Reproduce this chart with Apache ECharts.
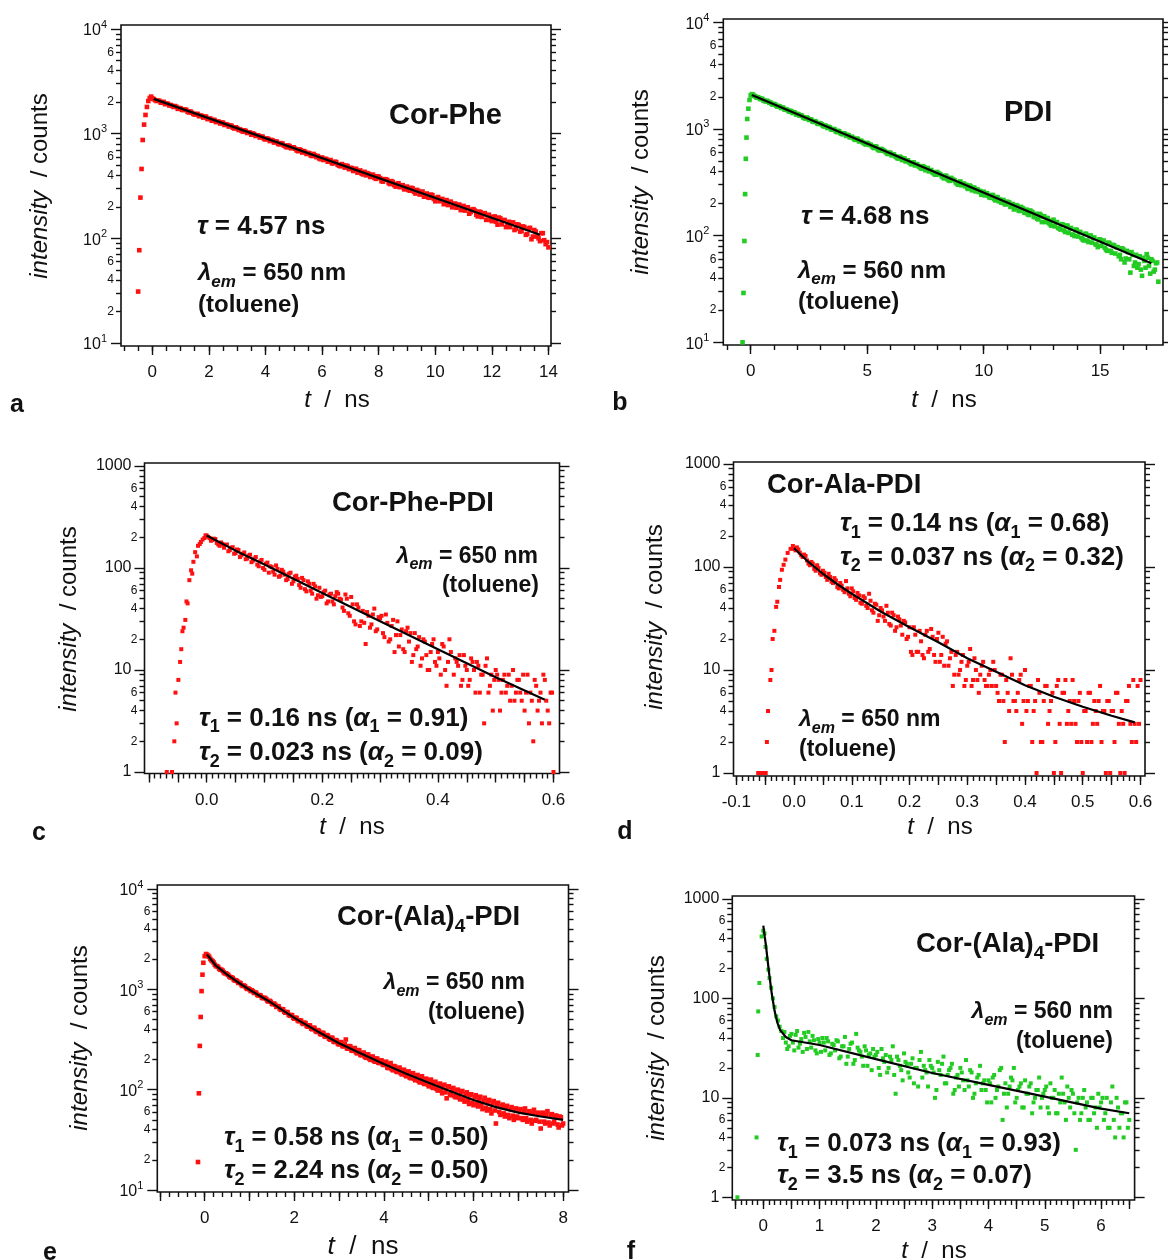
<!DOCTYPE html>
<html>
<head>
<meta charset="utf-8">
<script src="https://cdn.jsdelivr.net/npm/echarts@6/dist/echarts.min.js"></script>
<style>
  html, body { margin: 0; padding: 0; background: #fff; }
  #chart { width: 1168px; height: 1260px; }
</style>
</head>
<body>
<div id="chart"></div>
<script>
// ---------------- Fluorescence decay data (t in ns, intensity in counts) ----------------
// Each panel: the main channel set, an interleaved channel set, and the fitted decay curve.

// (a) Cor-Phe, λem = 650 nm
const pointsA = [[-0.5,31],[-0.46,77],[-0.42,245],[-0.38,460],[-0.34,870],[-0.29,1220],[-0.24,1510],[-0.19,1800],[-0.14,2050],[-0.09,2190],[-0.04,2260],
[0,2170],[0.1,2090],[0.2,2065],[0.3,1975],[0.4,2010],[0.5,1940],[0.6,1860],[0.7,1842],[0.8,1835],[0.9,1725],
[1,1745],[1.1,1680],[1.2,1690],[1.3,1595],[1.4,1586],[1.5,1520],[1.6,1545],[1.7,1490],[1.8,1425],[1.9,1455],
[2,1382],[2.1,1330],[2.2,1350],[2.3,1305],[2.4,1250],[2.5,1275],[2.6,1230],[2.7,1170],[2.8,1190],[2.9,1120],
[3,1128],[3.1,1100],[3.2,1045],[3.3,1062],[3.4,1030],[3.5,978],[3.6,992],[3.7,962],[3.8,918],[3.9,935],
[4,880],[4.1,890],[4.2,872],[4.3,822],[4.4,838],[4.5,790],[4.6,805],[4.7,758],[4.8,772],[4.9,725],
[5,740],[5.1,692],[5.2,708],[5.3,660],[5.4,672],[5.5,655],[5.6,618],[5.7,640],[5.8,596],[5.9,580],
[6,592],[6.1,575],[6.2,540],[6.3,560],[6.4,522],[6.5,535],[6.6,495],[6.7,512],[6.8,474],[6.9,490],
[7,472],[7.1,440],[7.2,462],[7.3,430],[7.4,415],[7.5,432],[7.6,420],[7.7,386],[7.8,405],[7.9,370],
[8,388],[8.1,352],[8.2,368],[8.3,362],[8.4,330],[8.5,345],[8.6,312],[8.7,336],[8.8,320],[8.9,294],
[9,312],[9.1,285],[9.2,300],[9.3,268],[9.4,284],[9.5,276],[9.6,250],[9.7,268],[9.8,244],[9.9,258],
[10,226],[10.1,248],[10.2,236],[10.3,212],[10.4,232],[10.5,222],[10.6,198],[10.7,215],[10.8,208],[10.9,186],
[11,204],[11.1,195],[11.2,172],[11.3,188],[11.4,184],[11.5,162],[11.6,178],[11.7,170],[11.8,150],[11.9,168],
[12,146],[12.1,162],[12.2,135],[12.3,155],[12.4,148],[12.5,128],[12.6,144],[12.7,140],[12.8,120],[12.9,136],
[13,116],[13.1,130],[13.2,108],[13.3,124],[13.4,98],[13.5,120],[13.6,104],[13.7,94],[13.8,112],[13.9,88],[14,82]];
const pointsA2 = [[0.05,2140],[0.15,2050],[0.25,2060],[0.35,2005],[0.45,1915],[0.55,1930],[0.65,1880],[0.75,1800],[0.85,1805],[0.95,1760],
[1.05,1690],[1.15,1700],[1.25,1615],[1.35,1630],[1.45,1545],[1.55,1540],[1.65,1470],[1.75,1480],[1.85,1450],[1.95,1380],
[2.05,1395],[2.15,1355],[2.25,1290],[2.35,1300],[2.45,1275],[2.55,1210],[2.65,1220],[2.75,1195],[2.85,1140],[2.95,1150],
[3.05,1085],[3.15,1070],[3.25,1075],[3.35,1015],[3.45,1025],[3.55,1005],[3.65,950],[3.75,960],[3.85,940],[3.95,890],
[4.05,900],[4.15,850],[4.25,862],[4.35,845],[4.45,798],[4.55,812],[4.65,770],[4.75,740],[4.85,760],[4.95,738],
[5.05,718],[5.15,680],[5.25,695],[5.35,682],[5.45,640],[5.55,650],[5.65,612],[5.75,622],[5.85,612],[5.95,570],
[6.05,560],[6.15,572],[6.25,552],[6.35,520],[6.45,540],[6.55,505],[6.65,488],[6.75,500],[6.85,495],[6.95,458],
[7.05,468],[7.15,458],[7.25,425],[7.35,445],[7.45,408],[7.55,400],[7.65,412],[7.75,404],[7.85,378],[7.95,392],
[8.05,376],[8.15,348],[8.25,366],[8.35,338],[8.45,352],[8.55,322],[8.65,330],[8.75,308],[8.85,322],[8.95,296],
[9.05,290],[9.15,304],[9.25,278],[9.35,290],[9.45,262],[9.55,280],[9.65,256],[9.75,246],[9.85,262],[9.95,238],
[10.05,244],[10.15,226],[10.25,238],[10.35,218],[10.45,208],[10.55,224],[10.65,212],[10.75,196],[10.85,210],[10.95,202],
[11.05,184],[11.15,198],[11.25,178],[11.35,190],[11.45,168],[11.55,180],[11.65,160],[11.75,174],[11.85,166],[11.95,150],
[12.05,160],[12.15,144],[12.25,158],[12.35,136],[12.45,150],[12.55,132],[12.65,128],[12.75,142],[12.85,124],[12.95,134],
[13.05,118],[13.15,128],[13.25,110],[13.35,126],[13.45,104],[13.55,116],[13.65,100],[13.75,112],[13.85,96],[13.95,92]];
const fitA = [[0.05,2150],[13.7,108]];

// (b) PDI, λem = 560 nm
const pointsB = [[-0.35,10],[-0.31,29],[-0.27,89],[-0.24,245],[-0.21,525],[-0.18,830],[-0.15,1240],[-0.1,1550],[-0.05,1870],[0,2060],
[0.1,2100],[0.2,2020],[0.3,1985],[0.4,1905],[0.5,1910],[0.6,1830],[0.7,1840],[0.8,1760],[0.9,1720],
[1,1715],[1.1,1650],[1.2,1640],[1.3,1570],[1.4,1580],[1.5,1515],[1.6,1490],[1.7,1480],[1.8,1410],[1.9,1420],
[2,1385],[2.1,1330],[2.2,1330],[2.3,1268],[2.4,1280],[2.5,1215],[2.6,1225],[2.7,1165],[2.8,1170],[2.9,1115],
[3,1125],[3.1,1070],[3.2,1078],[3.3,1020],[3.4,1035],[3.5,985],[3.6,990],[3.7,935],[3.8,950],[3.9,902],
[4,912],[4.1,860],[4.2,872],[4.3,838],[4.4,822],[4.5,790],[4.6,805],[4.7,770],[4.8,752],[4.9,725],
[5,740],[5.1,708],[5.2,690],[5.3,662],[5.4,680],[5.5,632],[5.6,650],[5.7,625],[5.8,606],[5.9,582],
[6,598],[6.1,572],[6.2,555],[6.3,532],[6.4,550],[6.5,510],[6.6,528],[6.7,505],[6.8,488],[6.9,466],
[7,486],[7.1,466],[7.2,448],[7.3,428],[7.4,448],[7.5,410],[7.6,430],[7.7,410],[7.8,392],[7.9,375],
[8,395],[8.1,380],[8.2,360],[8.3,344],[8.4,362],[8.5,330],[8.6,348],[8.7,334],[8.8,315],[8.9,300],
[9,322],[9.1,306],[9.2,290],[9.3,278],[9.4,295],[9.5,266],[9.6,282],[9.7,272],[9.8,256],[9.9,242],
[10,258],[10.1,247],[10.2,236],[10.3,226],[10.4,240],[10.5,214],[10.6,229],[10.7,218],[10.8,206],[10.9,198],
[11,208],[11.1,204],[11.2,190],[11.3,176],[11.4,193],[11.5,172],[11.6,186],[11.7,179],[11.8,163],[11.9,158],
[12,172],[12.1,165],[12.2,149],[12.3,144],[12.4,160],[12.5,134],[12.6,152],[12.7,146],[12.8,131],[12.9,124],
[13,141],[13.1,133],[13.2,118],[13.3,114],[13.4,127],[13.5,108],[13.6,124],[13.7,117],[13.8,102],[13.9,99],
[14,113],[14.1,108],[14.2,95],[14.3,90],[14.4,104],[14.5,87],[14.6,100],[14.7,95],[14.8,83],[14.9,78],
[15,92],[15.1,88],[15.2,77],[15.3,72],[15.4,85],[15.5,69],[15.6,81],[15.7,78],[15.8,64],[15.9,60],
[16,74],[16.1,61],[16.2,70],[16.3,45],[16.4,66],[16.5,56],[16.6,50],[16.7,64],[16.8,42],[16.9,58],
[17,67],[17.1,52],[17.2,60],[17.3,46],[17.4,55],[17.5,37]];
const pointsB2 = [[0.05,2120],[0.15,2045],[0.25,1965],[0.35,1960],[0.45,1925],[0.55,1850],[0.65,1810],[0.75,1805],[0.85,1770],[0.95,1690],
[1.05,1695],[1.15,1620],[1.25,1625],[1.35,1590],[1.45,1525],[1.55,1520],[1.65,1455],[1.75,1462],[1.85,1430],[1.95,1365],
[2.05,1370],[2.15,1345],[2.25,1285],[2.35,1252],[2.45,1262],[2.55,1230],[2.65,1178],[2.75,1185],[2.85,1130],[2.95,1135],
[3.05,1105],[3.15,1055],[3.25,1060],[3.35,1045],[3.45,990],[3.55,1000],[3.65,950],[3.75,960],[3.85,915],[3.95,890],
[4.05,900],[4.15,880],[4.25,835],[4.35,845],[4.45,800],[4.55,812],[4.65,765],[4.75,775],[4.85,738],[4.95,715],
[5.05,728],[5.15,712],[5.25,672],[5.35,688],[5.45,645],[5.55,628],[5.65,642],[5.75,620],[5.85,590],[5.95,600],
[6.05,566],[6.15,578],[6.25,545],[6.35,528],[6.45,540],[6.55,525],[6.65,496],[6.75,508],[6.85,478],[6.95,485],
[7.05,455],[7.15,468],[7.25,440],[7.35,425],[7.45,438],[7.55,428],[7.65,400],[7.75,412],[7.85,385],[7.95,372],
[8.05,386],[8.15,374],[8.25,352],[8.35,365],[8.45,338],[8.55,326],[8.65,340],[8.75,330],[8.85,308],[8.95,318],
[9.05,296],[9.15,308],[9.25,300],[9.35,274],[9.45,288],[9.55,280],[9.65,260],[9.75,270],[9.85,262],[9.95,244],
[10.05,238],[10.15,250],[10.25,228],[10.35,240],[10.45,220],[10.55,230],[10.65,210],[10.75,204],[10.85,216],[10.95,196],
[11.05,206],[11.15,186],[11.25,198],[11.35,180],[11.45,190],[11.55,170],[11.65,182],[11.75,164],[11.85,175],[11.95,156],
[12.05,168],[12.15,150],[12.25,160],[12.35,142],[12.45,156],[12.55,150],[12.65,134],[12.75,146],[12.85,128],[12.95,138],
[13.05,122],[13.15,134],[13.25,117],[13.35,128],[13.45,112],[13.55,124],[13.65,106],[13.75,118],[13.85,102],[13.95,114],
[14.05,98],[14.15,108],[14.25,92],[14.35,104],[14.45,90],[14.55,100],[14.65,86],[14.75,96],[14.85,82],[14.95,92],
[15.05,80],[15.15,90],[15.25,74],[15.35,86],[15.45,72],[15.55,82],[15.65,68],[15.75,78],[15.85,66],[15.95,76],
[16.05,56],[16.15,72],[16.25,60],[16.35,70],[16.45,52],[16.55,66],[16.65,54],[16.75,48],[16.85,62],[16.95,50],
[17.05,62],[17.15,44],[17.25,58],[17.35,48],[17.45,56]];
const fitB = [[0.05,2080],[17.2,55]];

// (c) Cor-Phe-PDI, λem = 650 nm
const pointsC = [[-0.069,1],[-0.06,1],[-0.056,2],[-0.054,6],[-0.052,3],[-0.049,8],[-0.046,12],[-0.044,16],[-0.042,24],[-0.04,26],[-0.037,31],[-0.035,47],[-0.033,45],[-0.03,76],[-0.027,95],[-0.025,88],[-0.023,115],[-0.02,143],[-0.017,130],[-0.015,165],[-0.012,172],[-0.01,180],[-0.007,190],[-0.004,197],[-0.002,209],
[0,208],[0.005,196],[0.01,188],[0.015,192],[0.02,170],[0.025,178],[0.03,158],[0.035,170],[0.04,150],[0.045,160],[0.05,140],[0.055,150],[0.06,133],[0.065,142],[0.07,124],[0.075,135],[0.08,118],[0.085,128],[0.09,104],[0.095,120],
[0.1,96],[0.105,113],[0.11,104],[0.115,92],[0.12,106],[0.125,82],[0.13,96],[0.135,86],[0.14,78],[0.145,90],[0.15,74],[0.155,84],[0.16,68],[0.165,80],[0.17,62],[0.175,74],[0.18,60],[0.185,70],[0.19,50],[0.195,64],
[0.2,53],[0.205,60],[0.21,47],[0.215,56],[0.22,44],[0.225,58],[0.23,50],[0.235,41],[0.24,55],[0.245,36],[0.25,52],[0.255,30],[0.26,44],[0.265,27],[0.27,38],[0.275,18],[0.28,34],[0.285,28],[0.29,40],[0.295,25],
[0.3,32],[0.305,23],[0.31,35],[0.315,19],[0.32,27],[0.325,15],[0.33,30],[0.335,22],[0.34,16],[0.345,24],[0.35,19],[0.355,12],[0.36,23],[0.365,17],[0.37,11],[0.375,20],[0.38,14],[0.385,10],[0.39,18],[0.395,12],
[0.4,15],[0.405,9],[0.41,17],[0.415,7],[0.42,20],[0.425,4],[0.43,13],[0.435,11],[0.44,7],[0.445,14],[0.45,10],[0.455,8],[0.46,12],[0.465,6],[0.47,11],[0.475,9],[0.48,3],[0.485,13],[0.49,7],[0.495,4],
[0.5,10],[0.505,8],[0.51,6],[0.515,9],[0.52,7],[0.525,5],[0.53,10],[0.535,6],[0.54,8],[0.545,5],[0.55,4],[0.555,9],[0.56,6],[0.565,2],[0.57,7],[0.575,5],[0.58,3],[0.585,8],[0.59,4],[0.595,6],[0.6,1]];
const pointsC2 = [[0.0025,202],[0.0075,185],[0.0125,194],[0.0175,176],[0.0225,165],[0.0275,172],[0.0325,168],[0.0375,146],[0.0425,158],[0.0475,138],
[0.0525,152],[0.0575,128],[0.0625,138],[0.0675,122],[0.0725,132],[0.0775,114],[0.0825,124],[0.0875,108],[0.0925,116],[0.0975,100],
[0.1025,110],[0.1075,90],[0.1125,102],[0.1175,86],[0.1225,98],[0.1275,84],[0.1325,92],[0.1375,76],[0.1425,88],[0.1475,70],
[0.1525,82],[0.1575,78],[0.1625,64],[0.1675,76],[0.1725,59],[0.1775,70],[0.1825,56],[0.1875,66],[0.1925,54],[0.1975,52],
[0.2025,58],[0.2075,45],[0.2125,55],[0.2175,47],[0.2225,53],[0.2275,56],[0.2325,49],[0.2375,38],[0.2425,50],[0.2475,34],
[0.2525,44],[0.2575,28],[0.2625,41],[0.2675,30],[0.2725,29],[0.2775,37],[0.2825,26],[0.2875,35],[0.2925,24],[0.2975,33],
[0.3025,34],[0.3075,21],[0.3125,29],[0.3175,20],[0.3225,31],[0.3275,22],[0.3325,17],[0.3375,25],[0.3425,15],[0.3475,26],
[0.3525,23],[0.3575,14],[0.3625,16],[0.3675,21],[0.3725,13],[0.3775,19],[0.3825,10],[0.3875,15],[0.3925,20],[0.3975,11],
[0.4025,13],[0.4075,18],[0.4125,10],[0.4175,12],[0.4225,15],[0.4275,9],[0.4325,12],[0.4375,14],[0.4425,8],[0.4475,11],
[0.4525,7],[0.4575,13],[0.4625,10],[0.4675,12],[0.4725,6],[0.4775,9],[0.4825,11],[0.4875,6],[0.4925,9],[0.4975,8],
[0.5025,9],[0.5075,4],[0.5125,8],[0.5175,6],[0.5225,9],[0.5275,7],[0.5325,5],[0.5375,8],[0.5425,6],[0.5475,9],
[0.5525,6],[0.5575,3],[0.5625,5],[0.5675,8],[0.5725,4],[0.5775,6],[0.5825,9],[0.5875,5],[0.5925,3],[0.5975,6]];
const fitC = [[0,208],[0.05,148],[0.1,108],[0.2,57],[0.3,30],[0.4,16],[0.5,8.5],[0.585,5.1]];

// (d) Cor-Ala-PDI, λem = 650 nm
const pointsD = [[-0.062,1],[-0.057,1],[-0.053,1],[-0.049,1],[-0.047,2],[-0.045,4],[-0.041,8],[-0.039,10],[-0.037,20],[-0.034,24],[-0.031,41],[-0.029,46],[-0.026,64],[-0.024,75],[-0.021,94],[-0.018,105],[-0.015,118],[-0.011,137],[-0.006,150],[-0.002,160],
[0,150],[0.005,155],[0.01,138],[0.015,125],[0.02,128],[0.025,108],[0.03,112],[0.035,96],[0.04,104],[0.045,87],[0.05,92],[0.055,80],[0.06,86],[0.065,72],[0.07,78],[0.075,64],[0.08,70],[0.085,60],[0.09,73],[0.095,55],
[0.1,62],[0.105,50],[0.11,56],[0.115,45],[0.12,52],[0.125,42],[0.13,55],[0.135,38],[0.14,44],[0.145,30],[0.15,40],[0.155,33],[0.16,42],[0.165,28],[0.17,36],[0.175,24],[0.18,33],[0.185,27],[0.19,30],[0.195,20],
[0.2,26],[0.205,14],[0.21,22],[0.215,15],[0.22,19],[0.225,13],[0.23,24],[0.235,16],[0.24,21],[0.245,12],[0.25,23],[0.255,14],[0.26,11],[0.265,19],[0.27,13],[0.275,7],[0.28,14],[0.285,9],[0.29,12],[0.295,7],
[0.3,11],[0.305,16],[0.31,8],[0.315,10],[0.32,6],[0.325,11],[0.33,8],[0.335,7],[0.34,10],[0.345,12],[0.35,7],[0.355,5],[0.36,9],[0.365,2],[0.37,6],[0.375,13],[0.38,5],[0.385,4],[0.39,8],[0.395,3],
[0.4,10],[0.405,5],[0.41,7],[0.415,4],[0.42,1],[0.425,6],[0.43,2],[0.435,7],[0.44,3],[0.445,5],[0.45,1],[0.455,7],[0.46,3],[0.465,6],[0.47,8],[0.475,4],[0.48,3],[0.485,5],[0.49,2],[0.495,6],
[0.5,1],[0.505,4],[0.51,6],[0.515,2],[0.52,5],[0.525,3],[0.53,7],[0.535,4],[0.54,1],[0.545,5],[0.55,4],[0.555,2],[0.56,6],[0.565,1],[0.57,3],[0.575,5],[0.58,7],[0.585,2],[0.59,3],[0.595,7],[0.6,8]];
const pointsD2 = [[0.0025,145],[0.0075,148],[0.0125,130],[0.0175,132],[0.0225,116],[0.0275,104],[0.0325,108],[0.0375,92],[0.0425,98],[0.0475,84],
[0.0525,88],[0.0575,75],[0.0625,80],[0.0675,70],[0.0725,74],[0.0775,62],[0.0825,66],[0.0875,57],[0.0925,62],[0.0975,52],
[0.1025,58],[0.1075,48],[0.1125,53],[0.1175,44],[0.1225,50],[0.1275,40],[0.1325,47],[0.1375,36],[0.1425,43],[0.1475,34],
[0.1525,38],[0.1575,30],[0.1625,36],[0.1675,27],[0.1725,34],[0.1775,26],[0.1825,31],[0.1875,22],[0.1925,29],[0.1975,21],
[0.2025,15],[0.2075,26],[0.2125,15],[0.2175,24],[0.2225,14],[0.2275,22],[0.2325,15],[0.2375,25],[0.2425,14],[0.2475,20],
[0.2525,12],[0.2575,21],[0.2625,18],[0.2675,11],[0.2725,15],[0.2775,9],[0.2825,15],[0.2875,10],[0.2925,14],[0.2975,8],
[0.3025,12],[0.3075,7],[0.3125,13],[0.3175,8],[0.3225,9],[0.3275,12],[0.3325,7],[0.3375,9],[0.3425,7],[0.3475,10],
[0.3525,6],[0.3575,9],[0.3625,5],[0.3675,8],[0.3725,4],[0.3775,9],[0.3825,5],[0.3875,6],[0.3925,9],[0.3975,5],
[0.4025,4],[0.4075,7],[0.4125,2],[0.4175,5],[0.4225,8],[0.4275,2],[0.4325,5],[0.4375,7],[0.4425,4],[0.4475,6],
[0.4525,2],[0.4575,8],[0.4625,1],[0.4675,6],[0.4725,3],[0.4775,5],[0.4825,8],[0.4875,3],[0.4925,5],[0.4975,2],
[0.5025,4],[0.5075,2],[0.5125,6],[0.5175,3],[0.5225,4],[0.5275,5],[0.5325,2],[0.5375,4],[0.5425,5],[0.5475,1],
[0.5525,4],[0.5575,6],[0.5625,3],[0.5675,4],[0.5725,1],[0.5775,5],[0.5825,3],[0.5875,8],[0.5925,2],[0.5975,3]];
const fitD = [[0,152],[0.025,112],[0.05,86],[0.075,68],[0.1,55],[0.15,37],[0.2,26],[0.25,18.6],[0.3,13],[0.35,9.6],[0.4,7.1],[0.45,5.5],[0.5,4.4],[0.55,3.6],[0.59,3.1]];

// (e) Cor-(Ala)4-PDI, λem = 650 nm
const pointsE = [[-0.15,19],[-0.13,92],[-0.11,273],[-0.09,530],[-0.07,960],[-0.05,1400],[-0.03,1840],[0,2140],[0.03,2250],
[0.05,2210],[0.1,2110],[0.15,1945],[0.2,1850],[0.25,1705],[0.3,1670],[0.35,1570],[0.4,1535],[0.45,1445],[0.5,1415],[0.55,1340],[0.6,1315],[0.65,1245],[0.7,1230],[0.75,1160],[0.8,1150],[0.85,1080],[0.9,1075],[0.95,1010],[1,1000],
[1.05,980],[1.1,920],[1.15,922],[1.2,868],[1.25,864],[1.3,815],[1.35,818],[1.4,765],[1.45,768],[1.5,718],
[1.55,722],[1.6,668],[1.65,676],[1.7,624],[1.75,632],[1.8,584],[1.85,592],[1.9,545],[1.95,552],[2,510],
[2.05,518],[2.1,480],[2.15,488],[2.2,452],[2.25,460],[2.3,424],[2.35,436],[2.4,400],[2.45,412],[2.5,376],
[2.55,386],[2.6,355],[2.65,366],[2.7,336],[2.75,346],[2.8,315],[2.85,328],[2.9,298],[2.95,308],[3,282],
[3.05,298],[3.1,270],[3.15,316],[3.2,256],[3.25,270],[3.3,244],[3.35,260],[3.4,230],[3.45,246],[3.5,220],
[3.55,234],[3.6,208],[3.65,224],[3.7,198],[3.75,214],[3.8,190],[3.85,204],[3.9,184],[3.95,195],[4,176],
[4.05,190],[4.1,164],[4.15,184],[4.2,156],[4.25,170],[4.3,150],[4.35,166],[4.4,142],[4.45,158],[4.5,136],
[4.55,152],[4.6,130],[4.65,146],[4.7,124],[4.75,140],[4.8,118],[4.85,136],[4.9,114],[4.95,128],[5,108],
[5.05,126],[5.1,104],[5.15,120],[5.2,98],[5.25,115],[5.3,92],[5.35,112],[5.4,82],[5.45,108],[5.5,88],
[5.55,104],[5.6,84],[5.65,100],[5.7,80],[5.75,97],[5.8,76],[5.85,94],[5.9,72],[5.95,90],[6,70],
[6.05,88],[6.1,68],[6.15,85],[6.2,64],[6.25,83],[6.3,62],[6.35,79],[6.4,58],[6.45,77],[6.5,46],
[6.55,74],[6.6,56],[6.65,71],[6.7,54],[6.75,69],[6.8,52],[6.85,67],[6.9,50],[6.95,65],[7,52],
[7.05,64],[7.1,50],[7.15,65],[7.2,48],[7.25,61],[7.3,46],[7.35,63],[7.4,50],[7.45,59],[7.5,41],
[7.55,59],[7.6,46],[7.65,61],[7.7,44],[7.75,57],[7.8,48],[7.85,55],[7.9,42],[7.95,53],[8,46]];
const pointsE2 = [[0.075,2175],[0.125,2010],[0.175,1910],[0.225,1760],[0.275,1700],[0.325,1600],[0.375,1565],[0.425,1475],[0.475,1445],[0.525,1390],
[0.575,1315],[0.625,1295],[0.675,1222],[0.725,1205],[0.775,1165],[0.825,1100],[0.875,1090],[0.925,1030],[0.975,1020],[1.025,962],
[1.075,958],[1.125,930],[1.175,880],[1.225,876],[1.275,828],[1.325,825],[1.375,800],[1.425,756],[1.475,752],[1.525,710],
[1.575,702],[1.625,680],[1.675,640],[1.725,635],[1.775,598],[1.825,594],[1.875,558],[1.925,554],[1.975,520],[2.025,522],
[2.075,490],[2.125,492],[2.175,460],[2.225,466],[2.275,432],[2.325,438],[2.375,406],[2.425,414],[2.475,384],[2.525,392],
[2.575,360],[2.625,370],[2.675,340],[2.725,350],[2.775,322],[2.825,330],[2.875,302],[2.925,312],[2.975,286],[3.025,296],
[3.075,272],[3.125,284],[3.175,258],[3.225,272],[3.275,246],[3.325,258],[3.375,236],[3.425,248],[3.475,222],[3.525,232],
[3.575,212],[3.625,224],[3.675,203],[3.725,212],[3.775,194],[3.825,204],[3.875,186],[3.925,196],[3.975,178],[4.025,186],
[4.075,166],[4.125,178],[4.175,160],[4.225,172],[4.275,152],[4.325,162],[4.375,146],[4.425,156],[4.475,140],[4.525,150],
[4.575,132],[4.625,144],[4.675,128],[4.725,138],[4.775,122],[4.825,132],[4.875,117],[4.925,128],[4.975,113],[5.025,122],
[5.075,106],[5.125,118],[5.175,102],[5.225,113],[5.275,98],[5.325,110],[5.375,94],[5.425,106],[5.475,90],[5.525,100],
[5.575,86],[5.625,98],[5.675,84],[5.725,94],[5.775,80],[5.825,90],[5.875,78],[5.925,88],[5.975,74],[6.025,84],
[6.075,72],[6.125,80],[6.175,70],[6.225,78],[6.275,66],[6.325,76],[6.375,64],[6.425,74],[6.475,62],[6.525,70],
[6.575,60],[6.625,68],[6.675,58],[6.725,66],[6.775,56],[6.825,64],[6.875,55],[6.925,63],[6.975,54],[7.025,62],
[7.075,52],[7.125,60],[7.175,52],[7.225,60],[7.275,50],[7.325,58],[7.375,49],[7.425,58],[7.475,48],[7.525,57],
[7.575,48],[7.625,56],[7.675,47],[7.725,56],[7.775,46],[7.825,55],[7.875,45],[7.925,54],[7.975,44]];
const fitE = [[0.05,2230],[0.25,1720],[0.5,1400],[0.75,1170],[1,990],[1.5,730],[2,520],[2.5,385],[3,290],[3.5,228],[4,180],[4.5,144],[5,117],[5.5,96],[6,79],[6.5,67],[7,59],[7.5,54],[8,50]];

// (f) Cor-(Ala)4-PDI, λem = 560 nm
const pointsF = [[-0.46,1],[-0.12,4],[-0.1,27],[-0.09,74],[-0.07,143],[-0.03,420],[0,480],[0.02,450],[0.04,330],[0.06,250],[0.09,195],[0.11,160],[0.14,128],[0.17,100],[0.2,82],[0.23,66],[0.26,60],[0.29,52],[0.32,47],
[0.35,40],[0.4,36],[0.45,33],[0.5,44],[0.55,30],[0.6,47],[0.65,35],[0.7,29],[0.75,41],[0.8,46],[0.85,32],[0.9,38],[0.95,28],
[1,36],[1.05,40],[1.1,30],[1.15,37],[1.2,28],[1.25,34],[1.3,38],[1.35,25],[1.4,33],[1.45,41],[1.5,26],[1.55,35],[1.6,22],[1.65,44],[1.7,30],[1.75,26],[1.8,33],[1.85,21],[1.9,28],[1.95,31],
[2,27],[2.05,20],[2.1,31],[2.15,23],[2.2,18],[2.25,26],[2.3,33],[2.35,11],[2.4,24],[2.45,19],[2.5,28],[2.55,22],[2.6,16],[2.65,25],[2.7,20],[2.75,13],[2.8,29],[2.85,21],[2.9,18],[2.95,24],
[3,20],[3.05,10],[3.1,23],[3.15,17],[3.2,26],[3.25,14],[3.3,19],[3.35,22],[3.4,12],[3.45,17],[3.5,20],[3.55,15],[3.6,24],[3.65,13],[3.7,18],[3.75,11],[3.8,16],[3.85,21],[3.9,14],[3.95,12],
[4,15],[4.05,9],[4.1,17],[4.15,12],[4.2,19],[4.25,6],[4.3,14],[4.35,11],[4.4,16],[4.45,20],[4.5,10],[4.55,13],[4.6,8],[4.65,15],[4.7,11],[4.75,14],[4.8,9],[4.85,12],[4.9,16],[4.95,10],
[5,12],[5.05,8],[5.1,14],[5.15,10],[5.2,7],[5.25,11],[5.3,16],[5.35,9],[5.4,13],[5.45,8],[5.5,11],[5.55,3],[5.6,10],[5.65,7],[5.7,12],[5.75,9],[5.8,6],[5.85,10],[5.9,8],[5.95,11],
[6,9],[6.05,6],[6.1,10],[6.15,5],[6.2,13],[6.25,4],[6.3,8],[6.35,7],[6.4,4],[6.45,9],[6.5,6]];
const pointsF2 = [[0.375,46],[0.425,31],[0.475,42],[0.525,36],[0.575,43],[0.625,32],[0.675,39],[0.725,45],[0.775,31],[0.825,37],
[0.875,42],[0.925,30],[0.975,39],[1.025,29],[1.075,36],[1.125,40],[1.175,27],[1.225,35],[1.275,30],[1.325,37],
[1.375,26],[1.425,33],[1.475,22],[1.525,31],[1.575,36],[1.625,24],[1.675,32],[1.725,29],[1.775,21],[1.825,30],
[1.875,27],[1.925,19],[1.975,26],[2.025,29],[2.075,17],[2.125,25],[2.175,27],[2.225,20],[2.275,24],[2.325,17],
[2.375,26],[2.425,21],[2.475,15],[2.525,23],[2.575,18],[2.625,22],[2.675,14],[2.725,20],[2.775,24],[2.825,16],
[2.875,19],[2.925,13],[2.975,21],[3.025,18],[3.075,12],[3.125,19],[3.175,22],[3.225,14],[3.275,17],[3.325,20],
[3.375,11],[3.425,16],[3.475,13],[3.525,18],[3.575,12],[3.625,15],[3.675,19],[3.725,10],[3.775,14],[3.825,17],
[3.875,12],[3.925,15],[3.975,9],[4.025,14],[4.075,16],[4.125,10],[4.175,13],[4.225,20],[4.275,11],[4.325,8],
[4.375,13],[4.425,15],[4.475,9],[4.525,12],[4.575,14],[4.625,8],[4.675,11],[4.725,13],[4.775,7],[4.825,10],
[4.875,12],[4.925,8],[4.975,11],[5.025,13],[5.075,7],[5.125,10],[5.175,12],[5.225,7],[5.275,9],[5.325,11],
[5.375,6],[5.425,10],[5.475,12],[5.525,7],[5.575,9],[5.625,6],[5.675,10],[5.725,8],[5.775,6],[5.825,10],
[5.875,7],[5.925,5],[5.975,8],[6.025,10],[6.075,7],[6.125,5],[6.175,9],[6.225,6],[6.275,10],[6.325,5],
[6.375,7],[6.425,9],[6.475,5]];
const fitF = [[0,540],[0.025,420],[0.05,330],[0.075,245],[0.1,185],[0.15,112],[0.2,75],[0.25,57],[0.3,48],[0.4,41],[0.5,38],[1,34],[2,24.5],[3,17.8],[4,13.5],[5,10.3],[6,7.8],[6.5,7]];

// ---------------- Axis tick labels ----------------
const xLabelsA = [0, 2, 4, 6, 8, 10, 12, 14];
const xLabelsB = [0, 5, 10, 15];
const xLabelsC = [0, 0.2, 0.4, 0.6];
const xLabelsD = [-0.1, 0, 0.1, 0.2, 0.3, 0.4, 0.5, 0.6];
const xLabelsE = [0, 2, 4, 6, 8];
const xLabelsF = [0, 1, 2, 3, 4, 5, 6];
const decadesCounts = [10, 100, 1000, 10000];   // labelled 10^n
const decadesPlain = [1, 10, 100, 1000];        // labelled 1, 10, 100, 1000

// ---------------- Styling ----------------
const FONT = "'Liberation Sans', Arial, Helvetica, sans-serif";
const INK = '#111111';
const RED = '#ff1010';
const GREEN = '#22cc22';

function steps(from, to, step) {
  const out = [];
  const n = Math.round((to - from) / step);
  for (let i = 0; i <= n; i++) out.push(+(from + i * step).toFixed(4));
  return out;
}
function logMinor(decades) {
  const out = [];
  decades.slice(0, -1).forEach(d => { for (let k = 2; k <= 9; k++) out.push(d * k); });
  return out;
}
function logMinorLabelled(decades) {
  const out = [];
  decades.slice(0, -1).forEach(d => { [2, 4, 6].forEach(k => out.push(d * k)); });
  return out;
}
const intFmt = v => String(Math.round(v));
const oneDec = v => (Math.abs(v) < 1e-9 ? 0 : v).toFixed(1);

const panels = [
  { box: [121, 25, 430, 321], x: [-1.106, 14.09], y: [9.36, 10920], sup: true, decades: decadesCounts, mark: 4.6,
    xLabels: xLabelsA, xMajor: xLabelsA, xMinor: steps(-1, 14, 0.5), xFmt: intFmt, color: RED, points: pointsA.concat(pointsA2), fit: fitA },
  { box: [723.3, 19, 439.7, 326], x: [-1.176, 17.70], y: [9.43, 10737], sup: true, decades: decadesCounts, mark: 4.6,
    xLabels: xLabelsB, xMajor: xLabelsB, xMinor: steps(-1, 17, 1), xFmt: intFmt, color: GREEN, points: pointsB.concat(pointsB2), fit: fitB },
  { box: [144.5, 463, 415, 310.5], x: [-0.1076, 0.6104], y: [0.967, 1070], sup: false, decades: decadesPlain, mark: 4,
    xLabels: xLabelsC, xMajor: steps(-0.1, 0.6, 0.05), xMinor: steps(-0.1, 0.6, 0.01), xFmt: oneDec, color: RED, points: pointsC.concat(pointsC2), fit: fitC },
  { box: [733.5, 462, 411.5, 314], x: [-0.1048, 0.6078], y: [0.935, 1046], sup: false, decades: decadesPlain, mark: 4,
    xLabels: xLabelsD, xMajor: steps(-0.1, 0.6, 0.05), xMinor: steps(-0.1, 0.6, 0.01), xFmt: oneDec, color: RED, points: pointsD.concat(pointsD2), fit: fitD },
  { box: [157.3, 885, 411.2, 307], x: [-1.058, 8.12], y: [9.55, 10962], sup: true, decades: decadesCounts, mark: 4.6,
    xLabels: xLabelsE, xMajor: steps(-1, 8, 1), xMinor: steps(-1, 8, 0.2), xFmt: intFmt, color: RED, points: pointsE.concat(pointsE2), fit: fitE },
  { box: [732.3, 896, 402.3, 304], x: [-0.5506, 6.595], y: [0.939, 1072], sup: false, decades: decadesPlain, mark: 4,
    xLabels: xLabelsF, xMajor: steps(-0.5, 6.5, 0.5), xMinor: steps(-0.5, 6.5, 0.1), xFmt: intFmt, color: GREEN, points: pointsF.concat(pointsF2), fit: fitF }
];

const option = { animation: false, grid: [], xAxis: [], yAxis: [], series: [], graphic: [] };
const tickStyle = { color: INK, width: 1.4 };

panels.forEach((p, i) => {
  const [left, top, width, height] = p.box;
  // two overlaid grids: one carries the frame and major ticks, the other the minor ticks
  option.grid.push({ left, top, width, height, show: true, borderColor: INK, borderWidth: 1.6, backgroundColor: 'transparent' });
  option.grid.push({ left, top, width, height, show: false });
  const gMaj = 2 * i, gMin = 2 * i + 1;

  const xBase = { type: 'value', min: p.x[0], max: p.x[1], position: 'bottom', axisLine: { show: false, onZero: false }, splitLine: { show: false } };
  option.xAxis.push(Object.assign({}, xBase, {
    gridIndex: gMaj,
    axisTick: { show: true, customValues: p.xMajor, length: 9, lineStyle: tickStyle },
    axisLabel: { show: true, customValues: p.xLabels, formatter: p.xFmt, margin: 18, fontSize: 17, color: INK, fontFamily: FONT }
  }));
  option.xAxis.push(Object.assign({}, xBase, {
    gridIndex: gMin,
    axisTick: { show: true, customValues: p.xMinor, length: 5, lineStyle: tickStyle },
    axisLabel: { show: false }
  }));

  const yBase = { type: 'log', logBase: 10, min: p.y[0], max: p.y[1], axisLine: { show: false, onZero: false }, splitLine: { show: false } };
  const majorFmt = p.sup
    ? v => '{b|10}{s|' + Math.round(Math.log10(v)) + '}'
    : v => String(Math.round(v));
  option.yAxis.push(Object.assign({}, yBase, {
    gridIndex: gMaj, position: 'left',
    axisTick: { show: true, customValues: p.decades, length: 10, lineStyle: tickStyle },
    axisLabel: {
      show: true, customValues: p.decades, formatter: majorFmt, margin: p.sup ? 14 : 13,
      fontSize: 16, color: INK, fontFamily: FONT,
      rich: {
        b: { fontSize: 16, color: INK, fontFamily: FONT, verticalAlign: 'bottom' },
        s: { fontSize: 11, color: INK, fontFamily: FONT, verticalAlign: 'bottom', padding: [0, 0, 9, 0] }
      }
    }
  }));
  option.yAxis.push(Object.assign({}, yBase, {
    gridIndex: gMaj, position: 'right',
    axisTick: { show: true, customValues: p.decades, length: 10, lineStyle: tickStyle },
    axisLabel: { show: false }
  }));
  option.yAxis.push(Object.assign({}, yBase, {
    gridIndex: gMin, position: 'left',
    axisTick: { show: true, customValues: logMinor(p.decades), length: 5, lineStyle: tickStyle },
    axisLabel: {
      show: true, customValues: logMinorLabelled(p.decades), margin: 7, fontSize: 12, color: INK, fontFamily: FONT,
      formatter: v => String(Math.round(v / Math.pow(10, Math.floor(Math.log10(v) + 1e-9))))
    }
  }));
  option.yAxis.push(Object.assign({}, yBase, {
    gridIndex: gMin, position: 'right',
    axisTick: { show: true, customValues: logMinor(p.decades), length: 5, lineStyle: tickStyle },
    axisLabel: { show: false }
  }));

  option.series.push({
    type: 'scatter', xAxisIndex: 2 * i, yAxisIndex: 4 * i, data: p.points,
    symbol: 'rect', symbolSize: p.mark, itemStyle: { color: p.color, opacity: 1 }, silent: true, z: 2
  });
  option.series.push({
    type: 'line', xAxisIndex: 2 * i, yAxisIndex: 4 * i, data: p.fit,
    showSymbol: false, symbol: 'none', lineStyle: { color: '#000', width: 2.2 }, silent: true, z: 3
  });
});

// ---------------- Text annotations ----------------
function richSet(fs) {
  const base = { fontFamily: FONT, fontSize: fs, fontWeight: 'bold', fill: INK, verticalAlign: 'top' };
  const sub = Object.assign({}, base, { fontSize: Math.round(fs * 0.7), padding: [Math.round(fs * 0.5), 0, 0, 0] });
  return {
    n: base,
    i: Object.assign({}, base, { fontStyle: 'italic' }),
    s: sub,
    si: Object.assign({}, sub, { fontStyle: 'italic' })
  };
}
function note(text, x, yc, fs, align) {
  return {
    type: 'text', x: x, y: yc - fs / 2, silent: true, z: 10,
    style: { text: text, rich: richSet(fs), align: align || 'left', verticalAlign: 'top', fontFamily: FONT, fontSize: fs, fill: INK }
  };
}
const notes = [
  ['{n|Cor-Phe}', 389, 116, 29],
  ['{i|τ}{n| = 4.57 ns}', 197, 227, 26],
  ['{i|λ}{si|em}{n| = 650 nm}', 198, 273.5, 24],
  ['{n|(toluene)}', 198, 305, 24],

  ['{n|PDI}', 1004, 113, 29],
  ['{i|τ}{n| = 4.68 ns}', 801, 217, 26],
  ['{i|λ}{si|em}{n| = 560 nm}', 798, 271, 24],
  ['{n|(toluene)}', 798, 302, 24],

  ['{n|Cor-Phe-PDI}', 332, 503, 27.5],
  ['{i|λ}{si|em}{n| = 650 nm}', 538, 556.5, 23, 'right'],
  ['{n|(toluene)}', 539, 586, 23, 'right'],
  ['{i|τ}{s|1}{n| = 0.16 ns (}{i|α}{s|1}{n| = 0.91)}', 199, 718.5, 26],
  ['{i|τ}{s|2}{n| = 0.023 ns (}{i|α}{s|2}{n| = 0.09)}', 199, 753, 26],

  ['{n|Cor-Ala-PDI}', 767, 485.5, 27.5],
  ['{i|τ}{s|1}{n| = 0.14 ns (}{i|α}{s|1}{n| = 0.68)}', 840, 524, 26],
  ['{i|τ}{s|2}{n| = 0.037 ns (}{i|α}{s|2}{n| = 0.32)}', 840, 557.5, 26],
  ['{i|λ}{si|em}{n| = 650 nm}', 799, 720, 23],
  ['{n|(toluene)}', 799, 750, 23],

  ['{n|Cor-(Ala)}{s|4}{n|-PDI}', 337, 917, 27.5],
  ['{i|λ}{si|em}{n| = 650 nm}', 525, 983, 23, 'right'],
  ['{n|(toluene)}', 525, 1013, 23, 'right'],
  ['{i|τ}{s|1}{n| = 0.58 ns (}{i|α}{s|1}{n| = 0.50)}', 224, 1138, 25.5],
  ['{i|τ}{s|2}{n| = 2.24 ns (}{i|α}{s|2}{n| = 0.50)}', 224, 1171, 25.5],

  ['{n|Cor-(Ala)}{s|4}{n|-PDI}', 916, 944, 27.5],
  ['{i|λ}{si|em}{n| = 560 nm}', 1113, 1012, 23, 'right'],
  ['{n|(toluene)}', 1113, 1041.5, 23, 'right'],
  ['{i|τ}{s|1}{n| = 0.073 ns (}{i|α}{s|1}{n| = 0.93)}', 777, 1144, 26],
  ['{i|τ}{s|2}{n| = 3.5 ns (}{i|α}{s|2}{n| = 0.07)}', 777, 1176, 26]
];
notes.forEach(n => option.graphic.push(note(n[0], n[1], n[2], n[3], n[4])));

// axis titles
const titleRich = fs => ({
  i: { fontFamily: FONT, fontSize: fs, fontStyle: 'italic', fill: INK },
  n: { fontFamily: FONT, fontSize: fs, fill: INK }
});
const yTitles = [[40, 186], [641, 182], [69, 619], [655, 617], [80, 1038], [657, 1048]];
const xTitles = [[337, 400, 24], [944, 400, 24], [352, 827, 24], [940, 827, 24], [363, 1247, 26], [934, 1251, 24]];
yTitles.forEach(([x, y]) => option.graphic.push({
  type: 'text', x, y, rotation: Math.PI / 2, silent: true,
  style: { text: '{i|intensity}{n|  / counts}', rich: titleRich(24), align: 'center', verticalAlign: 'middle' }
}));
xTitles.forEach(([x, y, fs]) => option.graphic.push({
  type: 'text', x, y, silent: true,
  style: { text: '{i|t}{n|  /  ns}', rich: titleRich(fs), align: 'center', verticalAlign: 'middle' }
}));

// panel letters
[['a', 17, 405], ['b', 620, 403], ['c', 39, 833], ['d', 625, 832], ['e', 50, 1253], ['f', 631, 1252]].forEach(([t, x, y]) =>
  option.graphic.push({
    type: 'text', x, y, silent: true,
    style: { text: t, fontFamily: FONT, fontSize: 25, fontWeight: 'bold', fill: INK, align: 'center', verticalAlign: 'middle' }
  }));

const chart = echarts.init(document.getElementById('chart'), null, { renderer: 'canvas' });
chart.setOption(option);
</script>
</body>
</html>
